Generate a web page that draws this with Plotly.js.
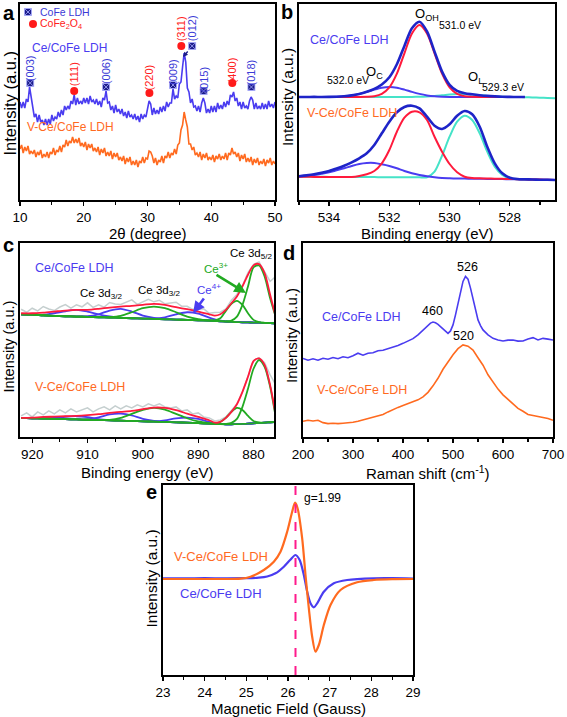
<!DOCTYPE html>
<html><head><meta charset="utf-8">
<script src="https://cdn.plot.ly/plotly-3.0.1.min.js"></script>
<style>html,body{margin:0;padding:0;background:#fff}#chart{width:567px;height:717px}</style>
</head><body><div id="chart"></div>
<script>
// ---------------- DATA ----------------
// (a) XRD
const xrdTheta = [10,10.25,10.5,10.75,11,11.25,11.5,11.75,12,12.25,12.5,12.75,13,13.25,13.5,13.75,14,14.25,14.5,14.75,15,15.25,15.5,15.75,16,16.25,16.5,16.75,17,17.25,17.5,17.75,18,18.25,18.5,18.75,19,19.25,19.5,19.75,20,20.25,20.5,20.75,21,21.25,21.5,21.75,22,22.25,22.5,22.75,23,23.25,23.5,23.75,24,24.25,24.5,24.75,25,25.25,25.5,25.75,26,26.25,26.5,26.75,27,27.25,27.5,27.75,28,28.25,28.5,28.75,29,29.25,29.5,29.75,30,30.25,30.5,30.75,31,31.25,31.5,31.75,32,32.25,32.5,32.75,33,33.25,33.5,33.75,34,34.25,34.5,34.75,35,35.25,35.5,35.75,36,36.25,36.5,36.75,37,37.25,37.5,37.75,38,38.25,38.5,38.75,39,39.25,39.5,39.75,40,40.25,40.5,40.75,41,41.25,41.5,41.75,42,42.25,42.5,42.75,43,43.25,43.5,43.75,44,44.25,44.5,44.75,45,45.25,45.5,45.75,46,46.25,46.5,46.75,47,47.25,47.5,47.75,48,48.25,48.5,48.75,49,49.25,49.5,49.75,50];
const xrdCe = [98,92,98,92,101,98,113,101,93,83,86,78,85,78,80,75,81,75,81,76,85,79,83,81,88,83,90,85,94,90,94,91,99,96,105,95,102,96,99,96,102,97,102,96,104,98,100,96,101,95,99,93,102,100,109,97,98,90,94,87,95,88,91,86,91,84,88,82,89,83,85,81,86,80,84,78,86,81,85,83,92,99,96,85,92,86,90,86,93,88,94,89,98,93,97,97,111,101,104,102,116,118,133,147,138,112,108,97,101,93,94,89,94,88,97,102,97,87,91,87,94,88,94,88,97,91,95,91,98,93,99,95,105,103,108,99,102,94,98,91,98,92,94,91,99,103,100,91,97,91,94,91,97,91,96,91,99,93,96,92,98];
const xrdV = [51,55,47,53,49,54,46,49,46,50,43,48,45,50,42,46,43,48,42,48,46,52,45,50,48,54,48,55,53,60,54,59,57,63,57,61,57,62,54,57,53,58,50,56,52,56,49,52,48,53,45,51,47,52,44,48,44,49,41,47,43,47,40,43,39,44,36,42,38,43,35,39,35,40,33,39,37,43,37,42,41,49,48,44,37,42,35,40,38,44,37,44,42,48,42,47,45,51,46,55,57,70,75,88,80,73,56,56,50,53,45,47,43,48,40,46,42,47,40,43,40,45,38,44,41,46,40,44,41,47,40,47,45,52,46,48,43,47,39,45,41,46,38,42,38,43,35,41,37,42,35,39,36,41,34,40,37,42,35,39,36];
const millerLabels = ['(003)','(111)','(006)','(220)','(009)','(311)','(012)','(015)','(400)','(018)'];
const millerTheta  = [11.6,18.5,23.5,30.3,34.0,35.3,37.0,38.8,43.3,46.3];
const millerPhase  = ['LDH','spinel','LDH','spinel','LDH','spinel','LDH','LDH','spinel','LDH'];
const millerMarkY  = [117,109,113,107,115,154,154,109,117,113];
const millerTextY  = [132,126,129,123,128,171,172,120,130,128];

// (b) O 1s XPS
const oBE = [535,534.75,534.5,534.25,534,533.75,533.5,533.25,533,532.75,532.5,532.25,532,531.75,531.5,531.25,531,530.75,530.5,530.25,530,529.75,529.5,529.25,529,528.75,528.5,528.25,528,527.75,527.5,527.25,527,526.75,526.5];
const oCeEnv = [103,103,103.1,103,103.1,103.3,103.7,104.6,106.1,108.3,111.2,115.5,122.7,135.7,154.1,171.7,178.3,168.6,148.4,128.4,115.2,109.1,106.8,105.7,104.8,104.1,103.6,103.2,103.1,103,103,null,null,null,null];
const oCeOH  = [103,103,103,103,103,103,103,103,103,103.2,103.8,106.2,112.7,126.4,146.7,166.5,175,166.5,146.7,126.4,112.7,106.2,103.8,103.2,103,103,103,103,103,103,103,null,null,null,null];
const oCeOC  = [103,103,103.1,103,103.1,103.3,103.7,104.6,106.1,108.1,110.4,112.3,113,112.3,110.4,108.1,106.1,104.6,103.7,103.3,103.1,103,103,103,103,103,103,103,103,103,103,null,null,null,null];
const oCeOL  = [103,103,103,103,103,103,103,103,103,103,103,103,103,103,103,103.1,103.2,103.5,104,104.7,105.4,105.9,106,105.5,104.8,104.1,103.6,103.2,103.1,103,102.8,102.5,102.3,102,101.8];
const oVEnv  = [23.7,24.6,25.7,27.2,29,31.5,34.3,37.7,41.7,46.7,55,66.7,78.3,87.7,93,94.3,91.7,83.3,74.3,71,75.7,84.3,89,85.7,73.3,53.3,36.7,26.7,22.3,21,20.7,20.5,20.3,20.2,20];
const oVOH   = [23.3,23.2,23.1,23,23,23,23,23,24,25.7,29,36.7,50,68.3,82.3,88.3,87.7,80,63.3,48.3,36,27.7,23.3,22,21.7,21.5,21.3,21.2,21,20.8,20.7,20.5,20.4,20.2,20];
const oVOC   = [23.3,24.1,25,26.3,27.7,29.7,31.7,34,36,37,37,35.7,34,31.7,29,26.7,25,23.7,22.7,22,21.7,21.5,21.4,21.3,21.2,21.1,21,20.9,20.8,20.7,20.5,20.4,20.3,20.2,20.1];
const oVOL   = [23.3,23.3,23.2,23.2,23.1,23.1,23,23,23,22.9,22.9,22.8,22.8,22.8,22.7,22.7,22.7,22.7,28.3,44.3,63.3,78.3,84.3,80,66.7,48.3,33.3,25,21.7,20.7,20.3,20.2,20.1,20,20];

// (c) Ce 3d XPS
const ceBE = [922,920,918,916,914,912,910,908,906,904,902,900,898,896,894,892,890,888,887,886,885,884,883,882,881,880,879,878,877,876];
const ceRawBE = [922,921,920,919,918,917,916,915,914,913,912,911,910,909,908,907,906,905,904,903,902,901,900,899,898,897,896,895,894,893,892,891,890,889,888,887,886,885,884,883,882,881,880,879,878,877,876];
const ceCeRaw  = [127.3,124.3,128.3,125.6,130,127.5,126,129.5,132,128.4,131.7,129.7,133.7,129.2,131.7,129.4,134,132.5,132,134.4,136.7,132.2,134.7,137.2,134.7,136.2,132.7,133.5,134.3,130.3,130.3,127.2,127,127.7,123.3,124,124.3,127.7,136.3,142,151,163.7,172,174.3,165,155,160];
const ceCeBase = [122.3,122,121.3,120.7,120.3,120,119.7,119.3,119,118.7,118.3,118,117.7,117.3,117,116.7,116.3,116,115.7,115.3,115,114.7,114.5,114.3,114.2,114,113.9,113.7,113.5,113.3];
const ceCeB1   = [122.3,122.2,121.8,123.3,125.3,126.7,125,122.3,120.2,118.8,118.3,118,117.7,117.3,117,116.7,116.3,116,115.7,115.3,115,114.7,114.5,114.3,114.2,114,113.9,113.7,113.5,113.3];
const ceCeB2   = [122.3,122,121.3,120.7,120.3,120.1,120.3,122.3,126,127.7,125,121,118.8,117.5,117,116.7,116.3,116,115.7,115.3,115,114.7,114.5,114.3,114.2,114,113.9,113.7,113.5,113.3];
const ceCeB3   = [122.3,122,121.3,120.7,120.3,120,119.7,119.3,119,118.7,118.3,118.1,118,119.3,122.3,124.3,123,119,117.2,116,115.3,114.9,114.6,114.3,114.2,114,113.9,113.7,113.5,113.3];
const ceCeG1   = [122.3,122,121.3,120.7,120.3,120,119.7,119.4,119.6,120.8,124.3,128.3,130,128.3,124.3,120,117.5,116.2,115.8,115.3,115,114.7,114.5,114.3,114.2,114,113.9,113.7,113.5,113.3];
const ceCeG2   = [122.3,122,121.3,120.7,120.3,120,119.7,119.3,119,118.7,118.3,118,117.7,117.3,117,116.7,116.3,116.1,116.3,118.3,125.7,132.7,135.7,131.7,123.3,116.7,114.5,113.8,113.5,113.3];
const ceCeG3   = [122.3,122,121.3,120.7,120.3,120,119.7,119.3,119,118.7,118.3,118,117.7,117.3,117,116.7,116.3,116,115.7,115.5,115.3,116,120,131.7,150,169,171,160,138.3,120];
const ceCeFit  = [123.3,123.3,124,125,126,126.7,126.7,127.7,129,130,130.7,131.7,132.7,131.7,129.3,127.3,125,122.3,121,122.3,126.7,133.3,140,150,161.7,171,172.3,163.3,141.7,120];
const ceVRaw   = [21,24,20,25,22,26,23,27,24,28,25,27,29,25,28,30,27,31,28,31,29,32,30,33,31,33,30,29,30,26,27,23,24,20,19,16,17,20,26,33,45,60,76,79,74,62,52];
const ceVBase  = [19,18.7,18.4,18.1,17.8,17.5,17.2,16.9,16.6,16.3,16,15.6,15.3,15,14.6,14.3,13.8,13.3,13,12.8,12.7,12.7,12.8,13,13.3,13.6,14,14.3,14.7,15];
const ceVB1    = [19,18.7,18.6,19,20.2,20.7,19.8,17.8,16.8,16.3,16,15.6,15.3,15,14.6,14.3,13.8,13.3,13,12.8,12.7,12.7,12.8,13,13.3,13.6,14,14.3,14.7,15];
const ceVB2    = [19,18.7,18.4,18.1,17.8,17.5,17.5,19.5,22.5,23.3,21.5,18,16,15.1,14.6,14.3,13.8,13.3,13,12.8,12.7,12.7,12.8,13,13.3,13.6,14,14.3,14.7,15];
const ceVB3    = [19,18.7,18.4,18.1,17.8,17.5,17.2,16.9,16.6,16.3,16,15.7,15.5,16.5,18.5,19.3,18,15,13.8,13,12.7,12.7,12.8,13,13.3,13.6,14,14.3,14.7,15];
const ceVG1    = [19,18.7,18.4,18.1,17.8,17.5,17.2,16.9,17,19,23,27,29,27.3,23,18.7,15.5,13.8,13.2,12.8,12.7,12.7,12.8,13,13.3,13.6,14,14.3,14.7,15];
const ceVG2    = [19,18.7,18.4,18.1,17.8,17.5,17.2,16.9,16.6,16.3,16,15.6,15.3,15,14.6,14.3,13.8,13.4,13.5,15,19,25,29,27,21,16,14.5,14.3,14.7,15];
const ceVG3    = [19,18.7,18.4,18.1,17.8,17.5,17.2,16.9,16.6,16.3,16,15.6,15.3,15,14.6,14.3,13.8,13.3,13,12.8,13,14,18,30,48,68,76.7,70,50,20];
const ceVFit   = [19,19.3,20,20.3,20.7,21,21.7,22.7,24,25,26,27.7,29.3,29,26.7,23.3,20,16.7,14.3,15,19,25,32.7,45,60,75.7,78.3,71.7,51.7,21.7];

// (d) Raman
const ramanCeShift = [200,210,220,230,240,250,260,270,280,290,300,310,320,330,340,350,360,370,380,390,400,410,420,430,440,450,455,460,465,470,480,490,495,500,505,510,515,520,525,530,535,540,545,550,555,560,570,580,590,600,610,620,630,640,650,660,670,680,690,700];
const ramanCe = [78.3,76.5,78,76.5,78.5,77.5,79.2,78,80,79,81,83.5,81.5,83.5,84,86,86.5,88,89,91.2,93.3,95.5,98,101.7,106.7,111.7,113.5,114.5,113.8,112.3,107.7,103.3,105.7,111.7,121.7,133.3,145,155,160,157.3,148.3,136.7,125.7,116.7,111,106.7,101.7,98.3,96.7,95.7,96.5,96.7,95.5,95.7,97.7,99,96.7,98.3,97.5,96.7];
const ramanVShift = [200,210,220,230,240,250,260,270,280,290,300,310,320,330,340,350,360,370,380,390,400,410,420,430,440,450,460,470,480,490,500,510,520,530,540,550,560,570,580,590,600,610,620,630,640,650,660,670,680,690,700];
const ramanV = [15.7,16.7,16,16.7,14.3,13.3,13.7,13.3,13.7,14,14.7,15.7,17,18.3,19.5,20.5,22.5,25,27.5,29.5,31.5,33.5,35,37,40,44.5,51,58.5,67.5,75,82,88,91.7,90.5,86.7,79,71.5,62,55,47.7,42,37.5,32,28.5,25.7,22.5,21.5,20.5,19.5,18.5,16.7];
const ramanPeakLabels = ['526','460','520'];

// (e) EPR
const eprCeField = [23,23.5,24,24.5,25,25.3,25.5,25.7,25.9,26.05,26.18,26.28,26.38,26.46,26.54,26.62,26.7,26.86,27.1,27.42,28.06,28.5,29];
const eprCe = [96.7,96.7,96.8,96.7,96.8,97.3,98.5,101.7,108.3,115,120,115,100,83.3,71.7,67.7,71.7,83.3,91.7,95,96.7,96.8,96.5];
const eprVField = [23,23.5,24,24.5,24.86,25.1,25.42,25.66,25.82,25.98,26.1,26.17,26.23,26.34,26.42,26.5,26.58,26.66,26.74,26.86,27.02,27.26,27.66,28.06,28.5,29];
const eprV = [96,96,96,96,96.3,98.3,105,113.3,123.3,143.3,163.3,172.3,166.7,136.7,100,66.7,38.3,23.3,30,50,70,85,92.7,95,95.8,96];
const gField = 26.18;

// ---------------- STYLE ----------------
const W = 567, H = 717;
const FONT = '"Liberation Sans", Arial, sans-serif';
const BLUE = '#4a3cf0', ORANGE = '#ff6a1f', NAVY = '#1c1c8a', RED = '#ff1a3c', GREEN = '#22aa22',
      CYAN = '#45e3c8', ENV = '#1e24c8', GRAY = '#c5cfcf', LDHTXT = '#3b3bd6', SPTXT = '#ff2020';

function P(px, py) { return { x: px / W, y: 1 - py / H }; }
function T(text, px, py, o) {
  o = o || {};
  const p = P(px, py);
  return { xref: 'paper', yref: 'paper', x: p.x, y: p.y, text: text, showarrow: false,
    xanchor: o.xa || 'left', yanchor: 'middle', textangle: o.angle || 0,
    font: { family: FONT, size: o.size || 12, color: o.color || '#000' } };
}
function line(x, y, xa, ya, color, width, shape, dash) {
  return { type: 'scatter', mode: 'lines', x: x, y: y, xaxis: xa, yaxis: ya,
    line: { color: color, width: width, shape: shape || 'linear', smoothing: 0.8, dash: dash || 'solid' },
    hoverinfo: 'skip', showlegend: false, connectgaps: false };
}
function xAx(dom, range, dtick, minor, anchor) {
  return { domain: dom, range: range, anchor: anchor, showline: true, mirror: true,
    linecolor: '#000', linewidth: 1.6, ticks: 'outside', ticklen: 4, tickwidth: 1.3, tickcolor: '#000',
    tick0: 0, dtick: dtick,
    minor: { tick0: 0, dtick: minor, ticks: 'outside', ticklen: 3, tickwidth: 1.2, tickcolor: '#000' },
    showgrid: false, zeroline: false, fixedrange: true,
    tickfont: { family: FONT, size: 13.5, color: '#000' } };
}
function yAx(dom, range, anchor) {
  return { domain: dom, range: range, anchor: anchor, showline: true, mirror: true,
    linecolor: '#000', linewidth: 1.6, ticks: '', showticklabels: false,
    showgrid: false, zeroline: false, fixedrange: true };
}

// ---------------- TRACES ----------------
const traces = [];
// (a)
traces.push(line(xrdTheta, xrdV, 'x', 'y', ORANGE, 1.6));
traces.push(line(xrdTheta, xrdCe, 'x', 'y', BLUE, 1.6));
const ldhIdx = millerPhase.map((p, i) => p === 'LDH' ? i : -1).filter(i => i >= 0);
const spIdx = millerPhase.map((p, i) => p === 'spinel' ? i : -1).filter(i => i >= 0);
traces.push({ type: 'scatter', mode: 'markers', xaxis: 'x', yaxis: 'y',
  x: ldhIdx.map(i => millerTheta[i]), y: ldhIdx.map(i => millerMarkY[i]),
  marker: { symbol: 'square-x', size: 7, color: NAVY, line: { color: '#a8acff', width: 0.8 } },
  hoverinfo: 'skip', showlegend: false });
traces.push({ type: 'scatter', mode: 'markers', xaxis: 'x', yaxis: 'y',
  x: spIdx.map(i => millerTheta[i]), y: spIdx.map(i => millerMarkY[i]),
  marker: { symbol: 'circle', size: 8, color: '#ff1a1a' }, hoverinfo: 'skip', showlegend: false });
// legend markers for (a)
traces.push({ type: 'scatter', mode: 'markers', xaxis: 'x', yaxis: 'y', x: [11.25], y: [188],
  marker: { symbol: 'square-x', size: 7, color: NAVY, line: { color: '#a8acff', width: 0.8 } }, hoverinfo: 'skip', showlegend: false });
traces.push({ type: 'scatter', mode: 'markers', xaxis: 'x', yaxis: 'y', x: [12.04], y: [176],
  marker: { symbol: 'circle', size: 8, color: '#ff1a1a' }, hoverinfo: 'skip', showlegend: false });

// (b)
[[oCeOL, CYAN], [oCeOC, BLUE], [oCeOH, RED], [oCeEnv, ENV]].forEach(s =>
  traces.push(line(oBE, s[0], 'x2', 'y2', s[1], s[1] === ENV ? 2.6 : 2, 'spline')));
[[oVOL, CYAN], [oVOC, BLUE], [oVOH, RED], [oVEnv, ENV]].forEach(s =>
  traces.push(line(oBE, s[0], 'x2', 'y2', s[1], s[1] === ENV ? 2.6 : 2, 'spline')));

// (c)
traces.push(line(ceRawBE, ceCeRaw, 'x3', 'y3', GRAY, 1.5));
traces.push(line(ceRawBE, ceVRaw, 'x3', 'y3', GRAY, 1.5));
[[ceCeBase, BLUE], [ceCeB1, BLUE], [ceCeB2, BLUE], [ceCeB3, BLUE], [ceCeG1, GREEN], [ceCeG2, GREEN], [ceCeG3, GREEN], [ceCeFit, RED],
 [ceVBase, BLUE], [ceVB1, BLUE], [ceVB2, BLUE], [ceVB3, BLUE], [ceVG1, GREEN], [ceVG2, GREEN], [ceVG3, GREEN], [ceVFit, RED]]
  .forEach(s => traces.push(line(ceBE, s[0], 'x3', 'y3', s[1], 1.8, 'spline')));

// (d)
traces.push(line(ramanCeShift, ramanCe, 'x4', 'y4', BLUE, 1.6));
traces.push(line(ramanVShift, ramanV, 'x4', 'y4', ORANGE, 1.6));

// (e)
traces.push(line(eprCeField, eprCe, 'x5', 'y5', BLUE, 2.2, 'spline'));
traces.push(line(eprVField, eprV, 'x5', 'y5', ORANGE, 2.2, 'spline'));
traces.push(line([gField, gField], [0, 190], 'x5', 'y5', '#ff1a8c', 2, 'linear', 'dash'));

// ---------------- ANNOTATIONS ----------------
const ann = [];
// panel letters
[['a', 9, 13], ['b', 287, 12], ['c', 8, 245], ['d', 289, 253], ['e', 151, 492]].forEach(l =>
  ann.push(T('<b>' + l[0] + '</b>', l[1], l[2], { xa: 'center', size: 20 })));
// y titles
[[9.5, 103, 16.5], [288, 97, 15.5], [8.5, 347, 14.5], [291, 336, 15], [150.5, 579, 15.5]].forEach(t =>
  ann.push(T('Intensity (a.u.)', t[0], t[1], { xa: 'center', angle: -90, size: t[2] })));
// x titles
ann.push(T('2θ (degree)', 147.5, 233, { xa: 'center', size: 15 }));
ann.push(T('Binding energy (eV)', 427, 233, { xa: 'center', size: 15 }));
ann.push(T('Binding energy (eV)', 147.5, 472, { xa: 'center', size: 15 }));
ann.push(T('Raman shift (cm<sup>-1</sup>)', 428, 472, { xa: 'center', size: 15 }));
ann.push(T('Magnetic Field (Gauss)', 288, 708, { xa: 'center', size: 15 }));

// (a) labels
ann.push(T('CoFe LDH', 38, 12, { color: LDHTXT, size: 10.5 }));
ann.push(T('CoFe<sub>2</sub>O<sub>4</sub>', 38, 24, { color: SPTXT, size: 10.5 }));
ann.push(T('Ce/CoFe LDH', 30, 48, { color: BLUE, size: 12 }));
ann.push(T('V-Ce/CoFe LDH', 25, 127, { color: ORANGE, size: 12 }));
millerLabels.forEach((lab, i) => ann.push({ xref: 'x', yref: 'y', x: millerTheta[i], y: millerTextY[i], text: lab,
  showarrow: false, textangle: -90, xanchor: 'center', yanchor: 'middle',
  font: { family: FONT, size: 11, color: millerPhase[i] === 'LDH' ? LDHTXT : SPTXT } }));
ann.push({ xref: 'x', yref: 'y', x: 35.57, y: 143, text: '', showarrow: true, ax: 6, ay: -7,
  arrowhead: 2, arrowsize: 0.7, arrowwidth: 1.4, arrowcolor: NAVY });

// (b) labels
ann.push(T('Ce/CoFe LDH', 308, 40, { color: BLUE, size: 12.5 }));
ann.push(T('O<sub>OH</sub>', 413, 14, { size: 13 }));
ann.push(T('531.0 eV', 437, 25, { size: 10.5 }));
ann.push(T('532.0 eV', 325, 80, { size: 10.5 }));
ann.push(T('O<sub>C</sub>', 364, 72, { size: 13 }));
ann.push(T('O<sub>L</sub>', 466, 78, { size: 13 }));
ann.push(T('529.3 eV', 480, 87, { size: 10.5 }));
ann.push(T('V-Ce/CoFe LDH', 305, 113, { color: ORANGE, size: 12.5 }));

// (c) labels
ann.push(T('Ce/CoFe LDH', 33, 268, { color: BLUE, size: 12.5 }));
ann.push(T('Ce 3d<sub>3/2</sub>', 78, 294, { size: 11.5 }));
ann.push(T('Ce 3d<sub>3/2</sub>', 136, 291, { size: 11.5 }));
ann.push(T('Ce<sup>4+</sup>', 195, 289, { color: BLUE, size: 11.5 }));
ann.push(T('Ce<sup>3+</sup>', 202, 268, { color: GREEN, size: 11.5 }));
ann.push(T('Ce 3d<sub>5/2</sub>', 228, 254, { size: 11.5 }));
ann.push(T('V-Ce/CoFe LDH', 33, 387, { color: ORANGE, size: 12.5 }));
{ const h = P(246, 293); ann.push({ xref: 'paper', yref: 'paper', x: h.x, y: h.y, text: '', showarrow: true,
  ax: -31, ay: -19, arrowhead: 2, arrowsize: 0.9, arrowwidth: 2.6, arrowcolor: GREEN }); }
{ const h = P(193, 313); ann.push({ xref: 'paper', yref: 'paper', x: h.x, y: h.y, text: '', showarrow: true,
  ax: 12, ay: -16, arrowhead: 2, arrowsize: 0.9, arrowwidth: 2.6, arrowcolor: BLUE }); }

// (d) labels
ann.push(T(ramanPeakLabels[0], 467, 267, { xa: 'center', size: 12.5 }));
ann.push(T(ramanPeakLabels[1], 432, 311, { xa: 'center', size: 12.5 }));
ann.push(T(ramanPeakLabels[2], 463, 336, { xa: 'center', size: 12.5 }));
ann.push(T('Ce/CoFe LDH', 320, 317, { color: BLUE, size: 12.5 }));
ann.push(T('V-Ce/CoFe LDH', 315, 390, { color: ORANGE, size: 12.5 }));

// (e) labels
ann.push(T('g=1.99', 302, 498, { size: 12 }));
ann.push(T('V-Ce/CoFe LDH', 172, 556, { color: ORANGE, size: 13 }));
ann.push(T('Ce/CoFe LDH', 178, 593, { color: BLUE, size: 13 }));

// ---------------- LAYOUT ----------------
const yTop = [1 - 200 / H, 1 - 4 / H], yMid = [1 - 437 / H, 1 - 243 / H], yBot = [1 - 675 / H, 1 - 485 / H];
const layout = {
  width: W, height: H, margin: { l: 0, r: 0, t: 0, b: 0 },
  paper_bgcolor: '#fff', plot_bgcolor: '#fff', showlegend: false, hovermode: false,
  font: { family: FONT, color: '#000' },
  xaxis:  xAx([20 / W, 275 / W], [10, 50], 10, 5, 'y'),
  yaxis:  yAx(yTop, [0, 196], 'x'),
  xaxis2: xAx([299 / W, 555 / W], [535, 526.5], 2, 1, 'y2'),
  yaxis2: yAx(yTop, [0, 196], 'x2'),
  xaxis3: xAx([20 / W, 274 / W], [922.2, 876.3], 10, 5, 'y3'),
  yaxis3: yAx(yMid, [0, 193.3], 'x3'),
  xaxis4: xAx([303 / W, 553 / W], [200, 700], 100, 50, 'y4'),
  yaxis4: yAx(yMid, [0, 193.3], 'x4'),
  xaxis5: xAx([163 / W, 413 / W], [23, 29], 1, 0.5, 'y5'),
  yaxis5: yAx(yBot, [0, 190], 'x5'),
  annotations: ann
};
Plotly.newPlot('chart', traces, layout, { staticPlot: true, displayModeBar: false });
</script></body></html>
